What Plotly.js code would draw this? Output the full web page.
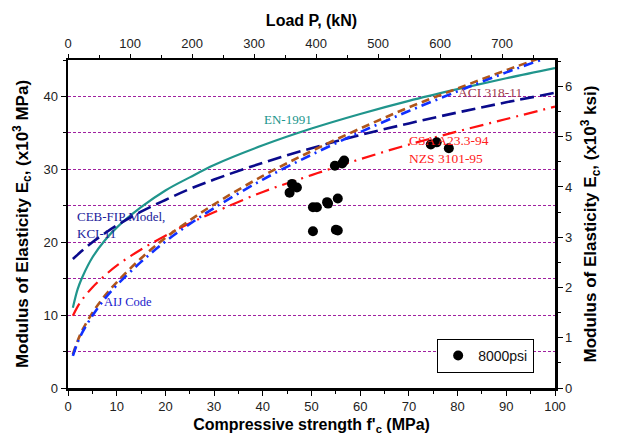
<!DOCTYPE html>
<html><head><meta charset="utf-8">
<script src="https://cdn.plot.ly/plotly-3.0.1.min.js"></script>
<style>html,body{margin:0;padding:0;background:#fff}#chart{width:617px;height:441px}</style>
</head><body><div id="chart"></div>
<script>
// Compressive strength f'c (MPa) sample points for the code curves
const fc = [1, 2, 3, 5, 7.5, 10, 15, 20, 25, 30, 40, 50, 60, 70, 80, 90, 100];
// Ec (x10^3 MPa)
const enCurve   = [11.0, 13.6, 15.3, 17.9, 20.2, 22.0, 24.8, 27.1, 28.9, 30.6, 33.3, 35.6, 37.6, 39.4, 41.0, 42.5, 43.9];
const cebCurve  = [17.7, 18.3, 18.9, 20.0, 21.2, 22.3, 24.2, 25.8, 27.3, 28.6, 30.9, 32.9, 34.7, 36.3, 37.8, 39.2, 40.5];
const csaCurve  = [9.9, 11.2, 12.2, 13.8, 15.4, 16.8, 19.0, 20.9, 22.6, 24.1, 26.9, 29.2, 31.4, 33.4, 35.2, 36.9, 38.6];
const aciCurve  = [4.6, 6.5, 8.0, 10.3, 12.6, 14.5, 17.8, 20.6, 23.0, 25.2, 29.1, 32.5, 35.6, 38.5, 41.1, 43.6, 46.0];
const aijCurve  = [4.4, 6.3, 7.7, 9.9, 12.2, 14.1, 17.3, 20.1, 22.5, 24.7, 28.6, 32.0, 35.1, 38.0, 40.7, 43.3, 45.7];
// Test data, 8000 psi concrete
const testFc = [45.5, 46.0, 47.0, 50.3, 50.3, 51.1, 53.2, 53.4, 55.0, 55.4, 55.4, 54.8, 56.3, 56.7, 74.5, 75.7, 78.2];
const testEc = [26.8, 28.0, 27.5, 21.5, 24.8, 24.8, 25.5, 25.3, 21.7, 21.6, 26.0, 30.5, 30.8, 31.2, 33.4, 33.7, 32.9];
// Axis ranges and ticks
const fcRange = [0, 100];
const ecRange = [0, 45];
const loadRange = [0, 785.4];
const ksiRange = [0, 6.527];
const labels = ["EN-1991", "CEB-FIP Model,<br>KCI-11", "CSA A23.3-94<br>NZS 3101-95", "ACI 318-11", "AIJ Code"];

const serif = "Liberation Serif, Times New Roman, serif";
const sans = "Liberation Sans, Arial, sans-serif";

const traces = [
  {x: fc, y: enCurve, mode: 'lines', line: {color: '#20958c', width: 2.2, shape: 'spline'}, showlegend: false, hoverinfo: 'skip'},
  {x: fc, y: cebCurve, mode: 'lines', line: {color: '#0a0a8c', width: 2.6, dash: '14px,6px', shape: 'spline'}, showlegend: false, hoverinfo: 'skip'},
  {x: fc, y: csaCurve, mode: 'lines', line: {color: '#ff1010', width: 2.2, dash: '14px,6px,2px,6px', shape: 'spline'}, showlegend: false, hoverinfo: 'skip'},
  {x: fc, y: aciCurve, mode: 'lines', line: {color: '#b0561a', width: 2.6, dash: '8px,5px', shape: 'spline'}, showlegend: false, hoverinfo: 'skip'},
  {x: fc, y: aijCurve, mode: 'lines', line: {color: '#1030ff', width: 2.6, dash: '10px,5px,2px,5px', shape: 'spline'}, showlegend: false, hoverinfo: 'skip'},
  {x: testFc, y: testEc, mode: 'markers', name: '8000psi', marker: {color: '#000', size: 10}},
  {x: [], y: [], xaxis: 'x2', yaxis: 'y2', mode: 'markers', showlegend: false, hoverinfo: 'skip'}
];

const gridStyle = {color: '#a020a0', dash: '3px,2px'};

const layout = {
  width: 617, height: 441,
  margin: {l: 68, r: 62, t: 60, b: 53},
  paper_bgcolor: '#fff', plot_bgcolor: '#fff',
  font: {family: sans, size: 13, color: '#222'},
  showlegend: true,
  legend: {x: 0.758, y: 0.046, xanchor: 'left', yanchor: 'bottom', bordercolor: '#000', borderwidth: 1,
           bgcolor: '#fff', font: {family: sans, size: 14, color: '#111'}, itemwidth: 30},
  xaxis: {range: fcRange, dtick: 10, tick0: 0, ticks: 'outside', ticklen: 5, tickwidth: 1, tickcolor: '#000',
          showline: true, linecolor: '#000', linewidth: 2.5, showgrid: false, zeroline: false,
          minor: {dtick: 5, ticks: 'outside', ticklen: 3, tickcolor: '#000'},
          title: {text: "<b>Compressive strength f'<sub>c</sub> (MPa)</b>", font: {size: 16, color: '#000'}, standoff: 6}},
  xaxis2: {range: loadRange, overlaying: 'x', side: 'top', anchor: 'y', dtick: 100, tick0: 0, ticks: 'outside', ticklen: 4,
           tickcolor: '#000', showline: true, linecolor: '#000', linewidth: 2.5, showgrid: false, zeroline: false,
           minor: {dtick: 50, ticks: 'outside', ticklen: 3, tickcolor: '#000'},
           title: {text: '<b>Load P, (kN)</b>', font: {size: 16, color: '#000'}, standoff: 6}},
  yaxis: {range: ecRange, dtick: 10, tick0: 0, ticks: 'outside', ticklen: 5, tickcolor: '#000',
          showline: true, linecolor: '#000', linewidth: 2.5, zeroline: false,
          showgrid: true, gridcolor: gridStyle.color, griddash: gridStyle.dash, gridwidth: 1,
          minor: {dtick: 5, ticks: 'outside', ticklen: 3, tickcolor: '#000', showgrid: true,
                  gridcolor: gridStyle.color, griddash: gridStyle.dash, gridwidth: 1},
          title: {text: '<b>Modulus of Elasticity E<sub>c</sub>, (x10<sup>3</sup> MPa)</b>', font: {size: 17, color: '#000'}, standoff: 11}},
  yaxis2: {range: ksiRange, overlaying: 'y', side: 'right', anchor: 'x', dtick: 1, tick0: 0, ticks: 'outside', ticklen: 5,
           tickcolor: '#000', showline: true, linecolor: '#000', linewidth: 2.5, showgrid: false, zeroline: false,
           minor: {dtick: 0.5, ticks: 'outside', ticklen: 3, tickcolor: '#000'},
           title: {text: '<b>Modulus of Elasticity E<sub>c</sub>, (x10<sup>3</sup> ksi)</b>', font: {size: 17, color: '#000'}, standoff: 13}},
  annotations: [
    {x: 45.2, y: 36.8, text: labels[0], showarrow: false, font: {family: serif, size: 13, color: '#20958c'}},
    {x: 1.4, y: 22.4, text: labels[1], showarrow: false, xanchor: 'left', align: 'left', font: {family: serif, size: 13, color: '#1a1a9a'}},
    {x: 69.6, y: 32.7, text: labels[2], showarrow: false, xanchor: 'left', align: 'left', font: {family: serif, size: 13.5, color: '#ff2020'}},
    {x: 86.7, y: 40.6, text: labels[3], showarrow: false, font: {family: serif, size: 13.5, color: '#a03c50'}},
    {x: 7.0, y: 11.8, text: labels[4], showarrow: false, xanchor: 'left', font: {family: serif, size: 12.5, color: '#1a1acc'}}
  ]
};

Plotly.newPlot('chart', traces, layout, {displayModeBar: false, staticPlot: true});
</script>
</body></html>
